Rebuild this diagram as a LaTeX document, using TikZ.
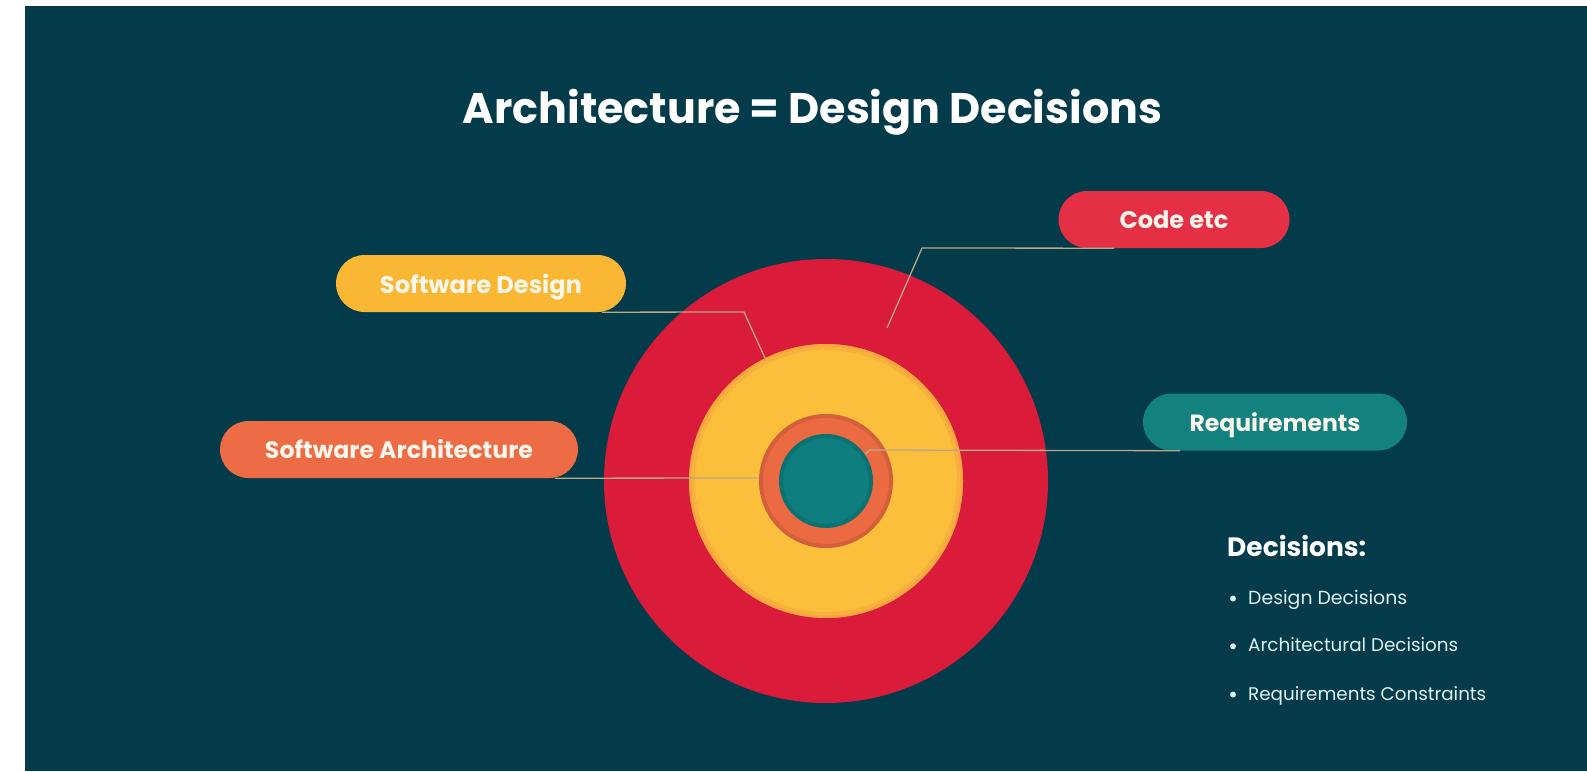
\documentclass[tikz,border=0pt]{standalone}
\usepackage{fontspec}
\setmainfont{Poppins}
\usetikzlibrary{shapes.misc,calc}
\definecolor{bg}{HTML}{033B4B}
\definecolor{redc}{HTML}{DB1B3A}
\definecolor{yelc}{HTML}{FCBF3C}
\definecolor{orac}{HTML}{EC6A42}
\definecolor{teac}{HTML}{0E7F7E}
\definecolor{codec}{HTML}{E52F45}
\definecolor{sdc}{HTML}{F9B734}
\definecolor{sac}{HTML}{EE6C45}
\definecolor{reqc}{HTML}{13827F}
\definecolor{pilltext}{HTML}{FBF6EC}
\definecolor{listc}{HTML}{DDF2F2}
\definecolor{linec}{HTML}{BCA988}
\newcommand{\fitw}[2]{\resizebox{#1}{!}{#2}}
\tikzset{
  pill/.style={rounded rectangle, minimum height=57pt, inner sep=0pt, text=pilltext, text depth=0pt},
  conn/.style={draw=linec, line width=1.3pt},
  disc/.style={circle, inner sep=0pt},
  listtext/.style={anchor=base west, inner sep=0pt, text=listc},
}
\begin{document}
\begin{tikzpicture}[x=1pt,y=-1pt]
\useasboundingbox (0,0) rectangle (1587,771);
\fill[white] (0,0) rectangle (1587,771);
\fill[bg] (25,6) rectangle (1587,771);

% title
\node[anchor=base, inner sep=0pt, text=white] (title) at (812.5,123.5) {\fitw{699pt}{\bfseries Architecture = Design Decisions}};

% concentric circles
\node[disc, fill=redc, minimum size=444pt] (outer) at (826,481) {};
\node[disc, fill=yelc, minimum size=274pt] (yel) at (826,481) {};
\draw[orac!45!yelc, line width=6pt, opacity=.35] (yel.center) circle (134);
\draw[orac!45!yelc, line width=2.5pt, opacity=.4] (yel.center) circle (135.7);
\node[disc, fill=orac, minimum size=134pt] (ora) at (826,481) {};
\draw[orac!60!black, line width=4pt, opacity=.25] (ora.center) circle (65);
\node[disc, fill=teac, minimum size=94pt] (tea) at (826,481) {};
\draw[teac!60!black, line width=4pt, opacity=.25] (tea.center) circle (45);

% pills
\node[pill, fill=sdc, minimum width=290pt] (sd) at (481,283.5) {\fitw{202pt}{\bfseries Software Design}};
\node[pill, fill=sac, minimum width=358pt] (sa) at (399,449.5) {\fitw{268pt}{\bfseries Software Architecture}};
\node[pill, fill=codec, minimum width=231pt] (code) at (1174,219.5) {\fitw{109pt}{\bfseries Code etc}};
\node[pill, fill=reqc, minimum width=264pt] (req) at (1275,422) {\fitw{171pt}{\bfseries Requirements}};

% connector points
\coordinate (sdb) at (744,312);
\coordinate (sde) at (765,358);
\coordinate (sae) at (759,478);
\coordinate (codeb) at (922,248);
\coordinate (codee) at (887,328);
\coordinate (reqb) at (870,450);
\coordinate (reqe) at (865,454);

\draw[conn] ($(sd.south)+(121,0)$) -- (sdb) -- (sde);
\draw[conn] ($(sa.south)+(156,0)$) -- (sae);
\draw[conn] ($(code.south)+(-60,0)$) -- (codeb) -- (codee);
\draw[conn] ($(req.south)+(-95,0)$) -- (reqb) -- (reqe);

% decisions list
\node[listtext, text=white] (dh) at (1227,556.6) {\fitw{139pt}{\bfseries Decisions:}};
\node[listtext] (d1) at (1248,604) {\fitw{159pt}{Design Decisions}};
\node[listtext] (d2) at (1248,651.8) {\fitw{210pt}{Architectural Decisions}};
\node[listtext] (d3) at (1248,700) {\fitw{238pt}{Requirements Constraints}};
\fill[listc] ($(d1.base west)+(-15,-5.5)$) circle (3);
\fill[listc] ($(d2.base west)+(-15,-5.5)$) circle (3);
\fill[listc] ($(d3.base west)+(-15,-5.5)$) circle (3);
\end{tikzpicture}
\end{document}
